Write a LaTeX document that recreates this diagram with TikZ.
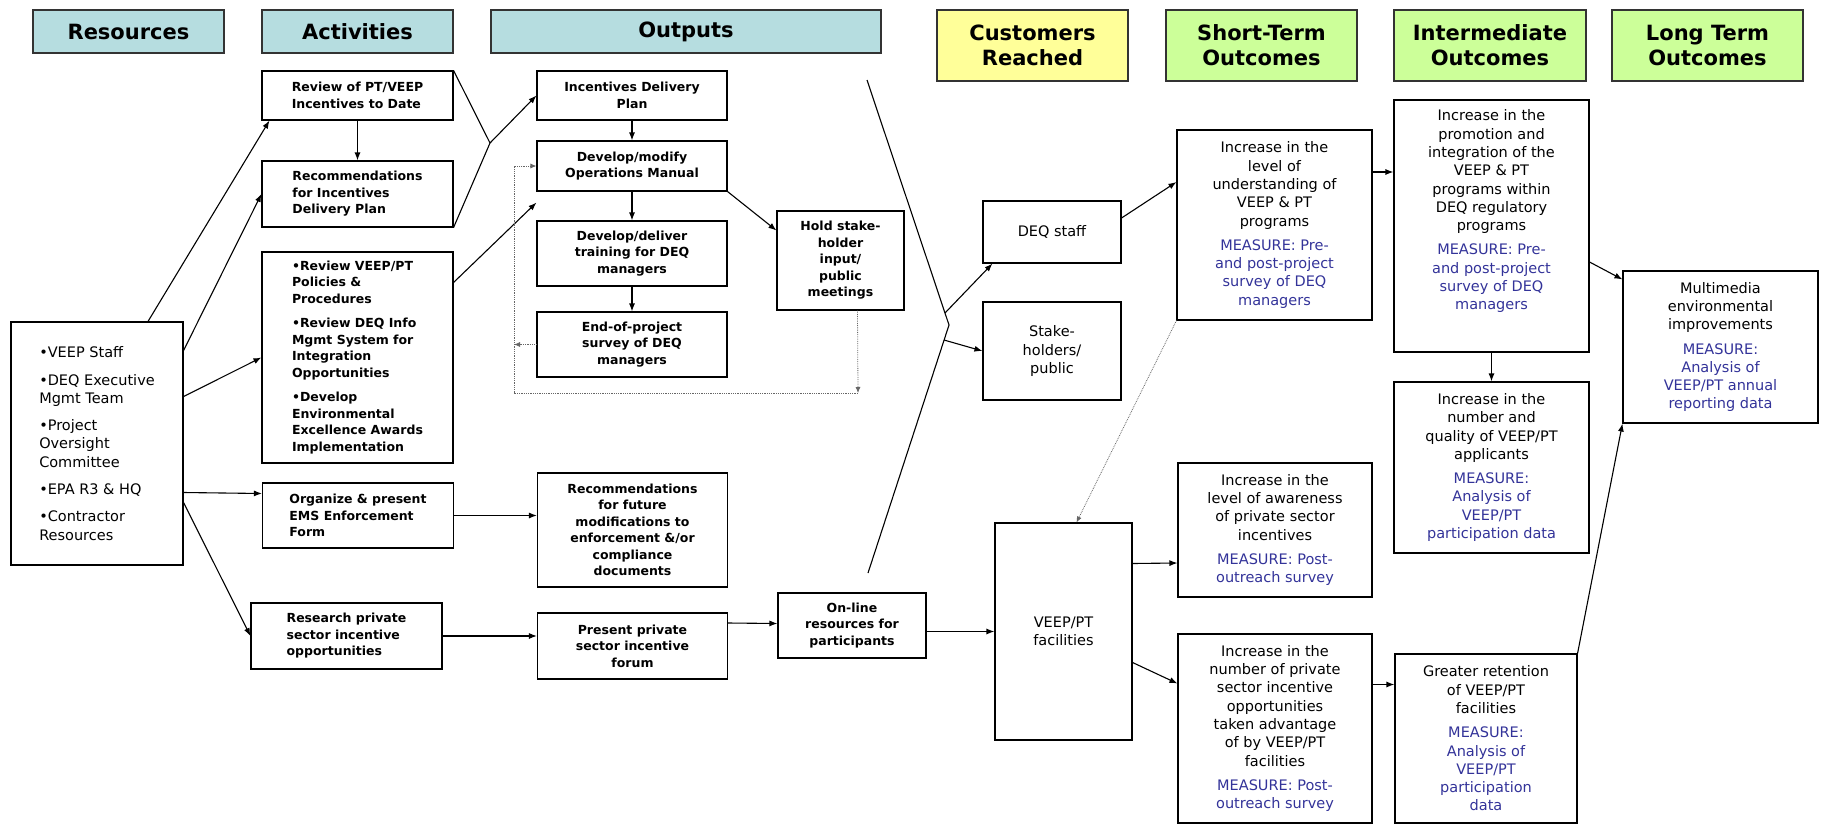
\documentclass[tikz,border=0pt]{standalone}
\usepackage{fontspec}
\setmainfont{DejaVu Sans}
\usepackage{tikz}
\usetikzlibrary{arrows.meta}

\definecolor{hcyan}{RGB}{182,221,224}
\definecolor{hyellow}{RGB}{255,255,153}
\definecolor{hgreen}{RGB}{204,255,153}
\definecolor{measc}{RGB}{51,51,153}

\begin{document}
\begin{tikzpicture}[x=1pt, y=-1pt,
    hdr/.style={draw=black!80, line width=1.6pt, align=center, inner sep=0pt,
        font=\fontsize{21}{25}\selectfont\bfseries},
    act/.style={draw, line width=1.1pt, inner sep=0pt,
        font=\fontsize{12.5}{16.5}\selectfont\bfseries},
    outc/.style={draw, line width=1.1pt, inner sep=0pt, align=center,
        font=\fontsize{14.5}{18.3}\selectfont},
    arr/.style={-{Latex[length=8pt,width=6pt]}, line width=1.1pt},
    fb/.style={densely dotted, line width=0.8pt, black!60}]
    \newcommand*{\ms}[1]{\textcolor{measc}{#1}}

    \useasboundingbox (0,0) rectangle (1824,825);

    \node[hdr, fill=hcyan, minimum width=191pt, minimum height=43pt] (hres) at (128.5,31.5) {Resources};
    \node[hdr, fill=hcyan, minimum width=191pt, minimum height=43pt] (hact) at (357.5,31.5) {Activities};
    \node[hdr, fill=hcyan, minimum width=390pt, minimum height=43pt] (hout) at (686,31.5) {Outputs};
    \node[hdr, fill=hyellow, minimum width=191pt, minimum height=71pt] (hcus) at (1032.5,45.5) {Customers\\ Reached};
    \node[hdr, fill=hgreen, minimum width=191pt, minimum height=71pt] (hst) at (1261.5,45.5) {Short-Term\\ Outcomes};
    \node[hdr, fill=hgreen, minimum width=192pt, minimum height=71pt] (hint) at (1490,45.5) {Intermediate\\ Outcomes};
    \node[hdr, fill=hgreen, minimum width=191pt, minimum height=71pt] (hlt) at (1707.5,45.5) {Long Term\\ Outcomes};

    \node[outc, align=left, minimum width=172pt, minimum height=243pt] (res) at (97,443.5)
        {•VEEP Staff\\[9pt] •DEQ Executive\\ Mgmt Team\\[9pt] •Project\\ Oversight\\ Committee\\[9pt]
         •EPA R3 \& HQ\\[9pt] •Contractor\\ Resources};

    \begin{scope}[every node/.append style={act, align=left, minimum width=191pt}]
        \node[minimum height=49pt] (rev) at (357.5,95.5) {Review of PT/VEEP\\ Incentives to Date};
        \node[minimum height=66pt] (recs) at (357.5,194) {Recommendations\\ for Incentives\\ Delivery Plan};
        \node[minimum height=211pt] (revl) at (357.5,357.5)
            {•Review VEEP/PT\\ Policies \&\\ Procedures\\[8pt] •Review DEQ Info\\ Mgmt System for\\ Integration\\
             Opportunities\\[8pt] •Develop\\ Environmental\\ Excellence Awards\\ Implementation};
        \node[minimum height=65pt] (org) at (358,515.5) {Organize \& present\\ EMS Enforcement\\ Form};
        \node[minimum height=66pt] (rsch) at (346.5,636) {Research private\\ sector incentive\\ opportunities};
    \end{scope}

    \begin{scope}[every node/.append style={act, align=center, minimum width=190pt}]
        \node[minimum height=49pt] (inc) at (632,95.5) {Incentives Delivery\\ Plan};
        \node[minimum height=50pt] (dev) at (632,166) {Develop/modify\\ Operations Manual};
        \node[minimum height=65pt] (trn) at (632,253.5) {Develop/deliver\\ training for DEQ\\ managers};
        \node[minimum height=65pt] (eop) at (632,344.5) {End-of-project\\ survey of DEQ\\ managers};
        \node[minimum height=114pt] (recf) at (632.5,530)
            {Recommendations\\ for future\\ modifications to\\ enforcement \&/or\\ compliance\\ documents};
        \node[minimum height=66pt] (pres) at (632.5,646) {Present private\\ sector incentive\\ forum};
        \node[minimum width=127pt, minimum height=99pt] (hold) at (840.5,260.5)
            {Hold stake-\\ holder\\ input/\\ public\\ meetings};
        \node[minimum width=148pt, minimum height=65pt] (onl) at (852,625.5) {On-line\\ resources for\\ participants};
    \end{scope}

    \node[outc, minimum width=138pt, minimum height=62pt] (deq) at (1052,232) {DEQ staff};
    \node[outc, minimum width=138pt, minimum height=98pt] (stk) at (1052,351) {Stake-\\ holders/\\ public};
    \node[outc, minimum width=137pt, minimum height=217pt] (vpt) at (1063.5,631.5) {VEEP/PT\\ facilities};

    \node[outc, minimum width=195pt, minimum height=190pt] (st1) at (1274.5,225)
        {Increase in the\\ level of\\ understanding of\\ VEEP \& PT\\ programs\\[6pt]
         \ms{MEASURE: Pre-}\\ \ms{and post-project}\\ \ms{survey of DEQ}\\ \ms{managers}};
    \node[outc, minimum width=194pt, minimum height=134pt] (st2) at (1275,530)
        {Increase in the\\ level of awareness\\ of private sector\\ incentives\\[6pt]
         \ms{MEASURE: Post-}\\ \ms{outreach survey}};
    \node[outc, minimum width=194pt, minimum height=189pt] (st3) at (1275,728.5)
        {Increase in the\\ number of private\\ sector incentive\\ opportunities\\ taken advantage\\
         of by VEEP/PT\\ facilities\\[6pt] \ms{MEASURE: Post-}\\ \ms{outreach survey}};

    \node[outc, minimum width=195pt, minimum height=252pt] (int1) at (1491.5,226)
        {Increase in the\\ promotion and\\ integration of the\\ VEEP \& PT\\ programs within\\ DEQ regulatory\\
         programs\\[6pt] \ms{MEASURE: Pre-}\\ \ms{and post-project}\\ \ms{survey of DEQ}\\ \ms{managers}\\[14pt]};
    \node[outc, minimum width=195pt, minimum height=171pt] (int2) at (1491.5,467.5)
        {Increase in the\\ number and\\ quality of VEEP/PT\\ applicants\\[6pt]
         \ms{MEASURE:}\\ \ms{Analysis of}\\ \ms{VEEP/PT}\\ \ms{participation data}};
    \node[outc, minimum width=182pt, minimum height=169pt] (int3) at (1486,738.5)
        {Greater retention\\ of VEEP/PT\\ facilities\\[6pt]
         \ms{MEASURE:}\\ \ms{Analysis of}\\ \ms{VEEP/PT}\\ \ms{participation}\\ \ms{data}};

    \node[outc, minimum width=195pt, minimum height=152pt] (mm) at (1720.5,347)
        {Multimedia\\ environmental\\ improvements\\[6pt]
         \ms{MEASURE:}\\ \ms{Analysis of}\\ \ms{VEEP/PT annual}\\ \ms{reporting data}};

    \coordinate (jn) at (490,143);
    \coordinate (fbr) at (858,393);
    \coordinate (fbl) at (514,393);
    \coordinate (cv0) at (867,80);
    \coordinate (cv1) at (949,325);
    \coordinate (cv2) at (868,573);
    \coordinate (cva) at (945,313);
    \coordinate (cvb) at (944,340);

    \draw[arr] ([xshift=51pt]res.north) -- ([xshift=8pt]rev.south west);
    \draw[arr] ([yshift=93pt]res.east) -- (recs.west);
    \draw[arr] ([yshift=47pt]res.east) -- (revl.west);
    \draw[arr] ([yshift=-49pt]res.east) -- ([yshift=22pt]org.west);
    \draw[arr] ([yshift=-59pt]res.east) -- (rsch.west);

    \foreach \a/\b in {rev/recs, inc/dev, dev/trn, trn/eop, int1/int2} {
        \draw[arr] (\a) -- (\b);
    }

    \draw[line width=1.1pt] (rev.north east) -- (jn) -- (recs.south east);
    \draw[arr] (jn) -- (inc.west);
    \draw[arr] ([yshift=75pt]revl.east) -- ([yshift=-11pt]dev.south west);
    \draw[arr] (dev.south east) -- ([yshift=30pt]hold.west);
    \draw[arr] (org.east) -- (org.east -| recf.west);
    \draw[arr] (rsch.east) -- (rsch.east -| pres.west);
    \draw[arr] ([yshift=23pt]pres.east) -- ([yshift=2pt]onl.west);
    \draw[arr] ([yshift=-6pt]onl.east) -- (vpt.west);

    \draw[fb, -{Latex[length=6pt,width=5pt]}] ([xshift=17pt]hold.south) -- (fbr);
    \draw[fb, -{Latex[length=6pt,width=5pt]}] (fbr) -- (fbl) |- (dev.west);
    \draw[fb, -{Latex[length=6pt,width=5pt]}] (eop.west) -- (eop.west -| fbl);

    \draw[line width=1.1pt] (cv0) -- (cv1) -- (cv2);
    \draw[arr] (cva) -- ([xshift=10pt]deq.south west);
    \draw[arr] (cvb) -- (stk.west);

    \draw[arr] ([yshift=14pt]deq.east) -- ([yshift=43pt]st1.west);
    \draw[fb, -{Latex[length=6pt,width=5pt]}] (st1.south west) -- ([xshift=13pt]vpt.north);
    \draw[arr] ([yshift=53pt]st1.east) -- ([yshift=54pt]int1.west);
    \draw[arr] ([yshift=-36pt]int1.east) -- ([yshift=-9pt]mm.north west);

    \draw[arr] ([yshift=68pt]vpt.east) -- ([yshift=-33pt]st2.west);
    \draw[arr] ([yshift=-31pt]vpt.east) -- ([yshift=45pt]st3.west);
    \draw[arr] ([yshift=44pt]st3.east) -- ([yshift=54pt]int3.west);
    \draw[arr] (int3.north east) -- (mm.south west);

\end{tikzpicture}
\end{document}
